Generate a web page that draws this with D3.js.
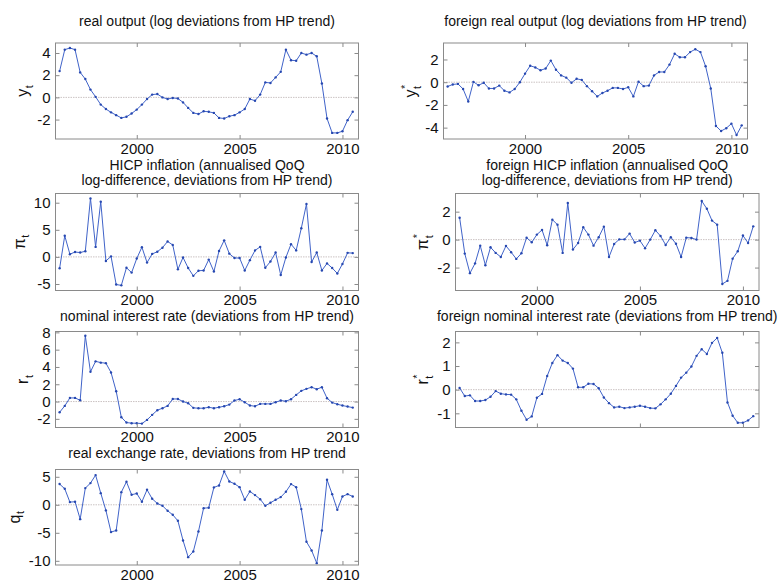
<!DOCTYPE html>
<html>
<head>
<meta charset="utf-8">
<script src="https://cdn.jsdelivr.net/npm/d3@7"></script>
<style>
  html, body { margin: 0; padding: 0; background: #fff; }
  svg { display: block; font-family: "Liberation Sans", Arial, Helvetica, sans-serif; }
</style>
</head>
<body>
<svg id="chart" width="780" height="583"></svg>
<script>
// Quarterly observations, 1996Q1 .. 2010Q2 (plotted at year + quarter/4)
const quarters = d3.range(58).map(i => 1996.25 + i / 4);
const yearTicks = [2000, 2005, 2010];

// Domestic real output, log deviations from HP trend
const realOutput = [
  2.37, 4.3, 4.45, 4.3, 2.25, 1.65, 0.7, 0.05, -0.65, -1.05,
  -1.35, -1.6, -1.85, -1.75, -1.45, -1.1, -0.65, -0.15, 0.25, 0.3,
  0.0, -0.15, -0.05, -0.1, -0.45, -0.95, -1.4, -1.5, -1.25, -1.3,
  -1.4, -1.85, -1.9, -1.7, -1.6, -1.35, -1.05, -0.15, -0.3, 0.25,
  1.35, 1.3, 1.8, 2.3, 4.3, 3.35, 3.3, 4.0, 3.85, 4.0,
  3.7, 1.25, -1.9, -3.2, -3.2, -3.05, -2.05, -1.3
];

// Foreign real output
const foreignOutput = [
  -0.38, -0.2, -0.15, -0.6, -1.7, 0.03, -0.27, -0.05, -0.55, -0.55,
  -0.3, -0.75, -0.9, -0.6, 0.0, 0.75, 1.45, 1.3, 1.05, 1.2,
  1.9, 1.1, 0.6, 0.4, -0.05, 0.3, 0.2, -0.35, -0.8, -1.25,
  -0.95, -0.75, -0.5, -0.5, -0.6, -0.45, -1.25, 0.05, -0.35, -0.3,
  0.6, 0.9, 0.9, 1.55, 2.5, 2.2, 2.2, 2.65, 2.9, 2.65,
  1.4, -0.55, -3.85, -4.3, -4.05, -3.65, -4.65, -3.8
];

// HICP inflation, annualised QoQ log-difference
const inflation = [
  -2.1, 3.9, 0.5, 0.9, 0.8, 1.05, 10.8, 1.85, 10.2, -0.75,
  0.1, -5.1, -5.25, -2.0, -2.9, -0.3, 1.8, -1.05, 0.55, 0.95,
  1.7, 2.85, 2.2, -2.3, -0.1, -2.05, -3.5, -2.55, -2.5, -0.5,
  -2.7, 1.1, 3.05, 0.6, -0.2, -0.2, -2.5, -0.6, 1.2, 1.85,
  -2.0, -0.85, 0.8, -3.35, -0.1, 2.35, 1.2, 5.3, 9.75, -0.95,
  0.8, -2.5, -1.2, -2.05, -3.05, -1.3, 0.75, 0.7
];

// Foreign HICP inflation
const foreignInflation = [
  1.57, -1.0, -2.4, -1.7, -0.43, -1.83, -0.55, -0.95, -1.24, -0.45,
  -0.9, -1.38, -0.98, 0.14, -0.19, 0.36, 0.69, -0.4, 1.43, 1.07,
  -0.95, 2.62, -0.71, -0.24, 0.88, 0.36, -0.43, 0.17, 0.93, -1.24,
  -0.31, 0.02, 0.02, 0.43, -0.21, -0.07, -0.62, 0.0, 0.67, 0.26,
  -0.38, 0.17, -0.29, -1.24, 0.14, 0.12, 0.0, 2.76, 2.21, 1.36,
  1.07, -3.17, -2.95, -1.36, -0.83, 0.29, -0.24, 0.95
];

// Nominal interest rate
const interestRate = [
  -1.24, -0.5, 0.42, 0.42, 0.15, 7.6, 3.44, 4.65, 4.5, 4.44,
  3.36, 1.2, -1.81, -2.43, -2.5, -2.5, -2.55, -2.12, -1.54, -1.0,
  -0.77, -0.5, 0.3, 0.3, 0.0, -0.19, -0.73, -0.77, -0.77, -0.66,
  -0.77, -0.66, -0.54, -0.35, 0.12, 0.27, -0.08, -0.46, -0.54, -0.27,
  -0.27, -0.27, -0.08, 0.12, 0.04, 0.27, 0.77, 1.24, 1.47, 1.66,
  1.43, 1.66, 0.39, -0.12, -0.31, -0.46, -0.58, -0.7
];

// Foreign nominal interest rate
const foreignInterestRate = [
  0.07, -0.27, -0.24, -0.48, -0.48, -0.44, -0.3, -0.06, -0.17, -0.2,
  -0.21, -0.41, -0.89, -1.27, -1.13, -0.34, -0.18, 0.58, 1.13, 1.46,
  1.23, 1.13, 0.89, 0.1, 0.1, 0.25, 0.24, 0.06, -0.33, -0.57,
  -0.75, -0.72, -0.78, -0.75, -0.72, -0.68, -0.72, -0.78, -0.79, -0.62,
  -0.41, -0.17, 0.16, 0.51, 0.72, 0.98, 1.43, 1.71, 1.51, 1.98,
  2.19, 1.56, -0.54, -1.1, -1.4, -1.4, -1.3, -1.12
];

// Real exchange rate
const exchangeRate = [
  3.7, 2.85, 0.48, 0.54, -2.56, 2.98, 3.87, 5.3, 2.08, -1.0,
  -4.88, -4.58, 2.26, 4.1, 1.79, 2.02, 0.54, 2.68, 1.07, 0.24,
  -0.18, -1.07, -1.79, -2.86, -6.37, -9.35, -8.33, -4.76, -0.6, -0.54,
  3.1, 3.45, 5.95, 4.17, 3.75, 3.15, 0.89, 2.38, 1.73, 1.0,
  -0.18, 0.36, 0.89, 1.37, 2.32, 3.69, 3.15, -0.77, -6.6, -8.15,
  -10.42, -4.58, 4.46, 1.9, -0.9, 1.49, 1.9, 1.49
];

// Panel layout: titles, series, axis ranges and placement on the page
const xDomain = [1996.05, 2010.78];
const panels = [
  { title: ["real output (log deviations from HP trend)"], values: realOutput,
    label: "y", star: false, yDomain: [-3.75, 4.9], yTicks: [-2, 0, 2, 4],
    left: 55.5, right: 358.5, top: 43, bottom: 139, xLabels: true, titleOffset: -17 },
  { title: ["foreign real output (log deviations from HP trend)"], values: foreignOutput,
    label: "y", star: true, yDomain: [-5.0, 3.45], yTicks: [-4, -2, 0, 2],
    left: 443.5, right: 747.5, top: 43, bottom: 139, xLabels: true, titleOffset: -17 },
  { title: ["HICP inflation (annualised QoQ", "log-difference, deviations from HP trend)"], values: inflation,
    label: "\u03c0", star: false, yDomain: [-6.2, 11.7], yTicks: [-5, 0, 5, 10],
    left: 55.5, right: 358.5, top: 193.5, bottom: 290.5, xLabels: true, titleOffset: -23.9 },
  { title: ["foreign HICP inflation (annualised QoQ", "log-difference, deviations from HP trend)"], values: foreignInflation,
    label: "\u03c0", star: true, yDomain: [-3.64, 3.3], yTicks: [-2, 0, 2],
    left: 455.5, right: 759, top: 193.5, bottom: 290.5, xLabels: true, titleOffset: -23.9 },
  { title: ["nominal interest rate (deviations from HP trend)"], values: interestRate,
    label: "r", star: false, yDomain: [-3.0, 8.1], yTicks: [-2, 0, 2, 4, 6, 8],
    left: 55.5, right: 358.5, top: 331.5, bottom: 427.5, xLabels: true, titleOffset: -11 },
  { title: ["foreign nominal interest rate (deviations from HP trend)"], values: foreignInterestRate,
    label: "r", star: true, yDomain: [-1.6, 2.46], yTicks: [-1, 0, 1, 2],
    left: 455.5, right: 759, top: 331.5, bottom: 427.5, xLabels: false, titleOffset: -11 },
  { title: ["real exchange rate, deviations from HP trend"], values: exchangeRate,
    label: "q", star: false, yDomain: [-10.75, 6.3], yTicks: [-10, -5, 0, 5],
    left: 55.5, right: 358.5, top: 469.5, bottom: 565, xLabels: true, titleOffset: -11.5 }
];

const boxColor = "#8a8a8a";
const lineColor = "#4063c9";
const dotColor = "#2748b0";
const svg = d3.select("#chart");
const fmt = d => String(d);

panels.forEach(p => {
  const x = d3.scaleLinear().domain(xDomain).range([p.left, p.right]);
  const y = d3.scaleLinear().domain(p.yDomain).range([p.bottom, p.top]);
  const g = svg.append("g");

  // zero reference line
  g.append("line")
    .attr("x1", p.left).attr("x2", p.right)
    .attr("y1", y(0)).attr("y2", y(0))
    .attr("stroke", "#cbc3c3").attr("stroke-width", 1)
    .attr("stroke-dasharray", "1.5,1");

  // series
  const line = d3.line().x((d, i) => x(quarters[i])).y(d => y(d));
  g.append("path").datum(p.values)
    .attr("d", line).attr("fill", "none")
    .attr("stroke", lineColor).attr("stroke-width", 1);
  g.selectAll("circle.pt").data(p.values).join("circle")
    .attr("class", "pt")
    .attr("cx", (d, i) => x(quarters[i])).attr("cy", d => y(d))
    .attr("r", 1.2).attr("fill", dotColor);

  // axes with inward ticks on all four sides
  const bottomAxis = d3.axisBottom(x).tickValues(yearTicks).tickSize(-4).tickPadding(4)
    .tickFormat(fmt);
  const topAxis = d3.axisTop(x).tickValues(yearTicks).tickSize(-4);
  const leftAxis = d3.axisLeft(y).tickValues(p.yTicks).tickSize(-4).tickPadding(5).tickFormat(fmt);
  const rightAxis = d3.axisRight(y).tickValues(p.yTicks).tickSize(-4);

  const axes = [
    [bottomAxis, `translate(0,${p.bottom})`],
    [topAxis, `translate(0,${p.top})`],
    [leftAxis, `translate(${p.left},0)`],
    [rightAxis, `translate(${p.right},0)`]
  ];
  const axisGroups = axes.map(([ax, tr]) => {
    const a = g.append("g").attr("transform", tr).call(ax);
    a.select(".domain").remove();
    a.selectAll(".tick line").attr("stroke", boxColor);
    a.selectAll(".tick text").attr("fill", "#111").attr("font-size", 15)
      .attr("font-family", "Liberation Sans, Arial, sans-serif");
    return a;
  });
  if (!p.xLabels) axisGroups[0].selectAll(".tick text").remove();
  axisGroups[1].selectAll(".tick text").remove();
  axisGroups[3].selectAll(".tick text").remove();

  // axes box
  g.append("rect")
    .attr("x", p.left).attr("y", p.top)
    .attr("width", p.right - p.left).attr("height", p.bottom - p.top)
    .attr("fill", "none").attr("stroke", boxColor).attr("stroke-width", 1);

  // title (one text element, one tspan per line)
  const cx = (p.left + p.right) / 2;
  const title = g.append("text")
    .attr("x", cx).attr("y", p.top + p.titleOffset)
    .attr("text-anchor", "middle").attr("font-size", 14).attr("fill", "#111");
  p.title.forEach((t, i) => {
    title.append("tspan").attr("x", cx).attr("dy", i === 0 ? 0 : 15.7).text(t);
  });

  // y label, rotated, with subscript t (and a * superscript for foreign variables)
  let minX = p.left;
  axisGroups[2].selectAll(".tick text").each(function () {
    const b = this.getBBox();
    const m = this.getCTM();
    minX = Math.min(minX, b.x + m.e);
  });
  const bx = minX - 9;
  const cy = (p.top + p.bottom) / 2;
  const lab = g.append("g").attr("transform", `translate(${bx},${cy}) rotate(-90)`);
  const inner = lab.append("g");
  const main = inner.append("text").attr("font-size", 16).attr("fill", "#111").text(p.label);
  const mw = main.node().getComputedTextLength();
  const sub = inner.append("text").attr("x", mw + 0.5).attr("y", 4.5)
    .attr("font-size", 11).attr("fill", "#111").text("t");
  let extra = sub.node().getComputedTextLength();
  if (p.star) {
    const st = inner.append("text").attr("x", mw + 0.5).attr("y", -7)
      .attr("font-size", 11).attr("fill", "#111").text("*");
    extra = Math.max(extra, st.node().getComputedTextLength());
  }
  inner.attr("transform", `translate(${-(mw + 0.5 + extra) / 2},0)`);
});
</script>
</body>
</html>
